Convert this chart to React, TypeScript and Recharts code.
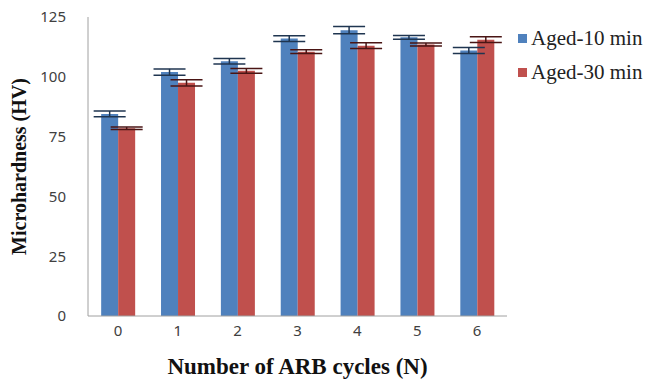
import { BarChart, Bar, XAxis, YAxis, ErrorBar, Legend } from 'recharts';

const cycles = ['0', '1', '2', '3', '4', '5', '6'];
const aged10 = [84.5, 102, 106.5, 116, 119.5, 116.5, 111];
const aged30 = [78.5, 97.5, 102.5, 110.5, 113, 113.5, 115.5];
const err10 = [1.2, 1.3, 1.2, 1.2, 1.5, 0.8, 1.3];
const err30 = [0.5, 1.3, 1.0, 0.8, 1.2, 0.6, 1.2];
const yTicks = [0, 25, 50, 75, 100, 125];

const data = cycles.map((c, i) => ({
  cycle: c,
  aged10: aged10[i],
  aged30: aged30[i],
  err10: err10[i],
  err30: err30[i],
}));

const tickStyle = { fontFamily: '"Noto Sans", sans-serif', fontSize: 15, fill: '#404040' };
const serif = '"Liberation Serif", "Times New Roman", serif';

const legendItems = [
  { name: 'Aged-10 min', color: '#4f81bd' },
  { name: 'Aged-30 min', color: '#c0504d' },
];

const renderLegend = () => (
  <div>
    {legendItems.map((item) => (
      <div
        key={item.name}
        style={{ display: 'flex', alignItems: 'center', height: 34, fontFamily: serif, fontSize: 21, color: '#222', whiteSpace: 'nowrap' }}
      >
        <span style={{ width: 9, height: 9, background: item.color, marginRight: 4, display: 'inline-block' }} />
        {item.name}
      </div>
    ))}
  </div>
);

const yLabel = ({ viewBox }) => {
  const { x, y, height } = viewBox;
  const cx = x - 21;
  const cy = y + height / 2;
  return (
    <text
      x={cx}
      y={cy}
      transform={`rotate(-90, ${cx}, ${cy})`}
      textAnchor="middle"
      dominantBaseline="central"
      style={{ fontFamily: serif, fontSize: 20, fontWeight: 'bold', fill: '#111' }}
    >
      Microhardness (HV)
    </text>
  );
};

export default function App() {
  return (
    <div style={{ position: 'absolute', left: 0, top: 0, background: '#fff' }}>
      <BarChart
        width={654}
        height={382}
        data={data}
        margin={{ top: 17, right: 147, bottom: 6, left: 40 }}
        barGap={0}
        barCategoryGap="22%"
      >
        <XAxis
          dataKey="cycle"
          height={60}
          tickSize={0}
          tickMargin={9}
          tick={tickStyle}
          axisLine={{ stroke: '#a0a0a0' }}
          label={{
            value: 'Number of ARB cycles (N)',
            position: 'insideBottom',
            offset: 2,
            style: { fontFamily: serif, fontSize: 23, fontWeight: 'bold', fill: '#111' },
          }}
        />
        <XAxis xAxisId="top" orientation="top" dataKey="cycle" height={0} tick={false} tickLine={false} axisLine={{ stroke: '#808080' }} />
        <YAxis
          domain={[0, 125]}
          ticks={yTicks}
          width={48}
          tickSize={0}
          tickMargin={22}
          tick={tickStyle}
          axisLine={{ stroke: '#a0a0a0' }}
          label={yLabel}
        />
        <YAxis yAxisId="right" orientation="right" width={0} tick={false} tickLine={false} axisLine={{ stroke: '#808080' }} />
        <Legend
          layout="vertical"
          verticalAlign="middle"
          align="center"
          content={renderLegend}
          wrapperStyle={{ top: 21, left: 518, width: 140 }}
        />
        <Bar dataKey="aged10" name="Aged-10 min" fill="#4f81bd" isAnimationActive={false}>
          <ErrorBar dataKey="err10" width={16} stroke="#1f3550" strokeWidth={1.5} isAnimationActive={false} />
        </Bar>
        <Bar dataKey="aged30" name="Aged-30 min" fill="#c0504d" isAnimationActive={false}>
          <ErrorBar dataKey="err30" width={16} stroke="#4a1514" strokeWidth={1.5} isAnimationActive={false} />
        </Bar>
      </BarChart>
    </div>
  );
}
